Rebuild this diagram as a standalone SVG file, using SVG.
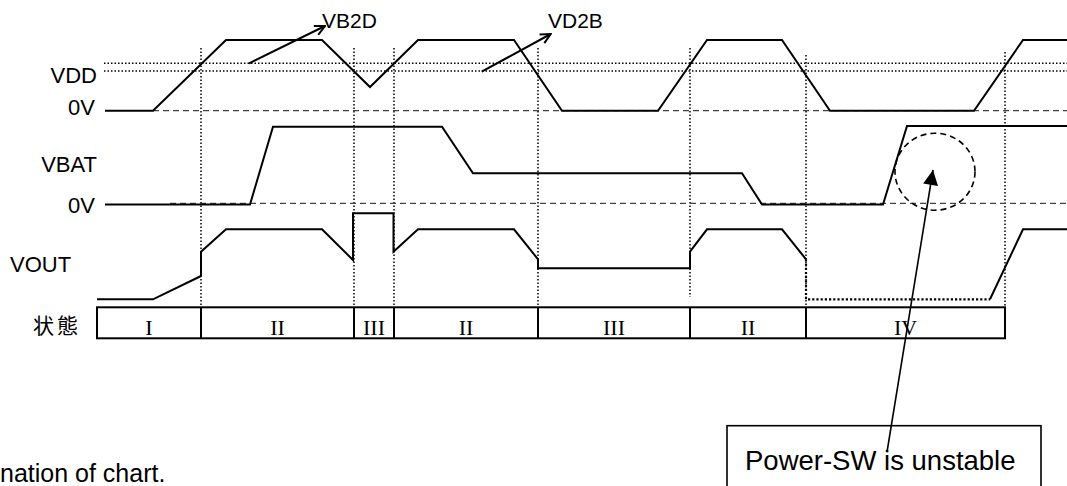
<svg xmlns="http://www.w3.org/2000/svg" width="1067" height="486" viewBox="0 0 1067 486">
<style>
.sig{fill:none;stroke:#000;stroke-width:2;stroke-linejoin:miter}
.guide{fill:none;stroke:#000;stroke-width:1.5;stroke-dasharray:1.5 2}
.zero{fill:none;stroke:#444;stroke-width:1.3;stroke-dasharray:6 4}
.lbl{font-family:"Liberation Sans",Arial,sans-serif;font-size:22px;fill:#000}
.num{font-family:"Liberation Serif","Times New Roman",serif;font-size:22px;text-anchor:middle;fill:#000}
.box{fill:none;stroke:#000;stroke-width:2}
</style>
<defs>
<marker id="open" viewBox="0 0 12 12" refX="11" refY="6" markerWidth="12" markerHeight="12" orient="auto" markerUnits="userSpaceOnUse">
<path d="M1,1 L11,6 L1,11" fill="none" stroke="#000" stroke-width="2"/>
</marker>
<marker id="solid" viewBox="0 0 16 16" refX="16" refY="8" markerWidth="16" markerHeight="15" orient="auto" markerUnits="userSpaceOnUse">
<path d="M0,0 L16,8 L0,16 Z" fill="#000"/>
</marker>
</defs>
<rect width="1067" height="486" fill="#fff"/>

<g id="guides">
<path class="guide" d="M104,63.3 H1067 M104,71 H1067"/>
<path class="guide" d="M201,48 V307 M354,48 V307 M394,48 V307 M538,48 V307 M690,48 V297 M806,55 V307 M1005,52 V307"/>
<path class="zero" d="M153,110.7 H1067 M170,203.3 H1067"/>
</g>

<g id="labels">
<text class="lbl" x="97" y="83" text-anchor="end">VDD</text>
<text class="lbl" x="95" y="115" text-anchor="end">0V</text>
<text class="lbl" x="97" y="171.7" text-anchor="end">VBAT</text>
<text class="lbl" x="95" y="213" text-anchor="end">0V</text>
<text class="lbl" x="10" y="271.7">VOUT</text>
<text x="33" y="333" style="font-family:'Noto Sans CJK JP','Noto Sans CJK SC',sans-serif;font-size:21px;letter-spacing:3px">状態</text>
</g>

<g id="vdd">
<path class="sig" d="M105,110.7 L153,110.7 L226,40 L322,40 L370,87 L418,40 L514,40 L562,110.7 L658,110.7 L707,40 L782,40 L830,110.7 L974,110.7 L1023,40 L1067,40"/>
</g>

<g id="vbat">
<path class="sig" d="M105,204.5 L250,204.5 L273,126.7 L442,126.7 L473,173.3 L742,173.3 L762,204.5 L883,204.5 L907,126 L1067,126"/>
</g>

<g id="vout">
<path class="sig" d="M97,299.3 L153,299.3 L201,276 L201,251.7 L226,229.3 L322,229.3 L353,260 L353,213.3 L393.5,213.3 L393.5,251.7 L418,229.3 L514,229.3 L538,259.3 L538,268.3 L690,268.3 L690,251.7 L707,229.3 L782,229.3 L806,259.3"/>
<path d="M806,259.3 V299.3 H990" fill="none" stroke="#000" stroke-width="2.2" stroke-dasharray="2.2 2"/>
<path class="sig" d="M990,299.3 L1023,229.3 L1067,229.3"/>
</g>

<g id="state">
<rect class="box" x="97" y="307.3" width="908" height="31"/>
<path class="box" d="M201,307.3 V338.3 M354,307.3 V338.3 M394,307.3 V338.3 M538,307.3 V338.3 M690,307.3 V338.3 M806,307.3 V338.3"/>
<text class="num" x="149" y="335">I</text>
<text class="num" x="277.5" y="335">II</text>
<text class="num" x="374" y="335">III</text>
<text class="num" x="466" y="335">II</text>
<text class="num" x="614" y="335">III</text>
<text class="num" x="748" y="335">II</text>
<text class="num" x="905.5" y="335">IV</text>
</g>

<g id="unstable-circle">
<ellipse cx="935" cy="171.7" rx="40" ry="38.5" fill="none" stroke="#000" stroke-width="1.6" stroke-dasharray="6 4"/>
</g>

<g id="note">
<rect x="727" y="425.7" width="314" height="75" fill="none" stroke="#000" stroke-width="1.6"/>
<text class="lbl" x="745" y="470" style="font-size:27.5px">Power-SW is unstable</text>
</g>

<g id="connectors">
<line x1="249" y1="63.3" x2="325" y2="26" stroke="#000" stroke-width="2" marker-end="url(#open)"/>
<line x1="481.7" y1="71.7" x2="550.7" y2="34" stroke="#000" stroke-width="2" marker-end="url(#open)"/>
<line x1="887" y1="452" x2="933" y2="170" stroke="#000" stroke-width="1.6" marker-end="url(#solid)"/>
</g>

<g id="arrow-labels">
<text class="lbl" x="322" y="28" style="font-size:21px">VB2D</text>
<text class="lbl" x="548" y="28" style="font-size:21px">VD2B</text>
</g>

<text class="lbl" x="0" y="482" style="font-size:25px">nation of chart.</text>
</svg>
